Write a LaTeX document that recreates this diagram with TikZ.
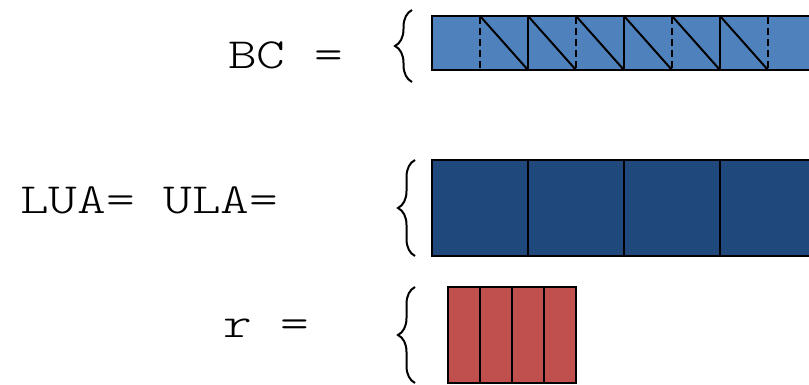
\documentclass[tikz,border=0pt]{standalone}
\usepackage{fontspec}
\newfontfamily\typefont{Latin Modern Mono Light}[FakeStretch=1.27]
\usetikzlibrary{decorations.pathreplacing}
\definecolor{bcblue}{HTML}{4F81BD}
\definecolor{ludark}{HTML}{1F497D}
\definecolor{rred}{HTML}{C0504D}
\tikzset{
  lbl/.style={anchor=base west, inner sep=0pt, font=\typefont\fontsize{43}{48}\selectfont},
  cellbox/.style={draw=black, line width=2pt},
  divider/.style={draw=black, line width=2pt},
  halfmark/.style={draw=black, line width=2.2pt, dash pattern=on 7pt off 4pt},
  curly/.style={draw=black, line width=2pt, decorate,
    decoration={brace, amplitude=17pt, aspect=0.5}},
}
\begin{document}
\begin{tikzpicture}[x=1pt, y=-1pt]
  \useasboundingbox (0,0) rectangle (809,385);
  \clip (0,0) rectangle (809,385);

  % labels
  \node[lbl] (bc) at (228,69) {BC =};
  \node[lbl] (lu) at (20,213) {LUA= ULA=};
  \node[lbl] (rr) at (223,337) {r =};

  % braces
  \draw[curly] (412,82) -- (412,10);
  \draw[curly] (415,256) -- (415,160);
  \draw[curly] (415,383) -- (415,287);

  % BC strip: full cells with half-cell dashed marks and zigzag diagonals
  \fill[bcblue] (432,16) rectangle (860,70);
  \foreach \x in {480,576,672,768}
    \draw[halfmark] (\x,17) -- (\x,69);
  \foreach \x in {480,528,576,624,672,720}
    \draw[divider] (\x,16) -- (\x+48,70);
  \foreach \x in {528,624,720}
    \draw[divider] (\x,16) -- (\x,70);
  \draw[cellbox] (432,16) rectangle (860,70);

  % LUA / ULA strip
  \fill[ludark] (432,160) rectangle (860,256);
  \foreach \x in {528,624,720}
    \draw[divider] (\x,160) -- (\x,256);
  \draw[cellbox] (432,160) rectangle (860,256);

  % r strip
  \fill[rred] (448,287) rectangle (576,383);
  \foreach \x in {480,512,544}
    \draw[divider] (\x,287) -- (\x,383);
  \draw[cellbox] (448,287) rectangle (576,383);
\end{tikzpicture}
\end{document}
